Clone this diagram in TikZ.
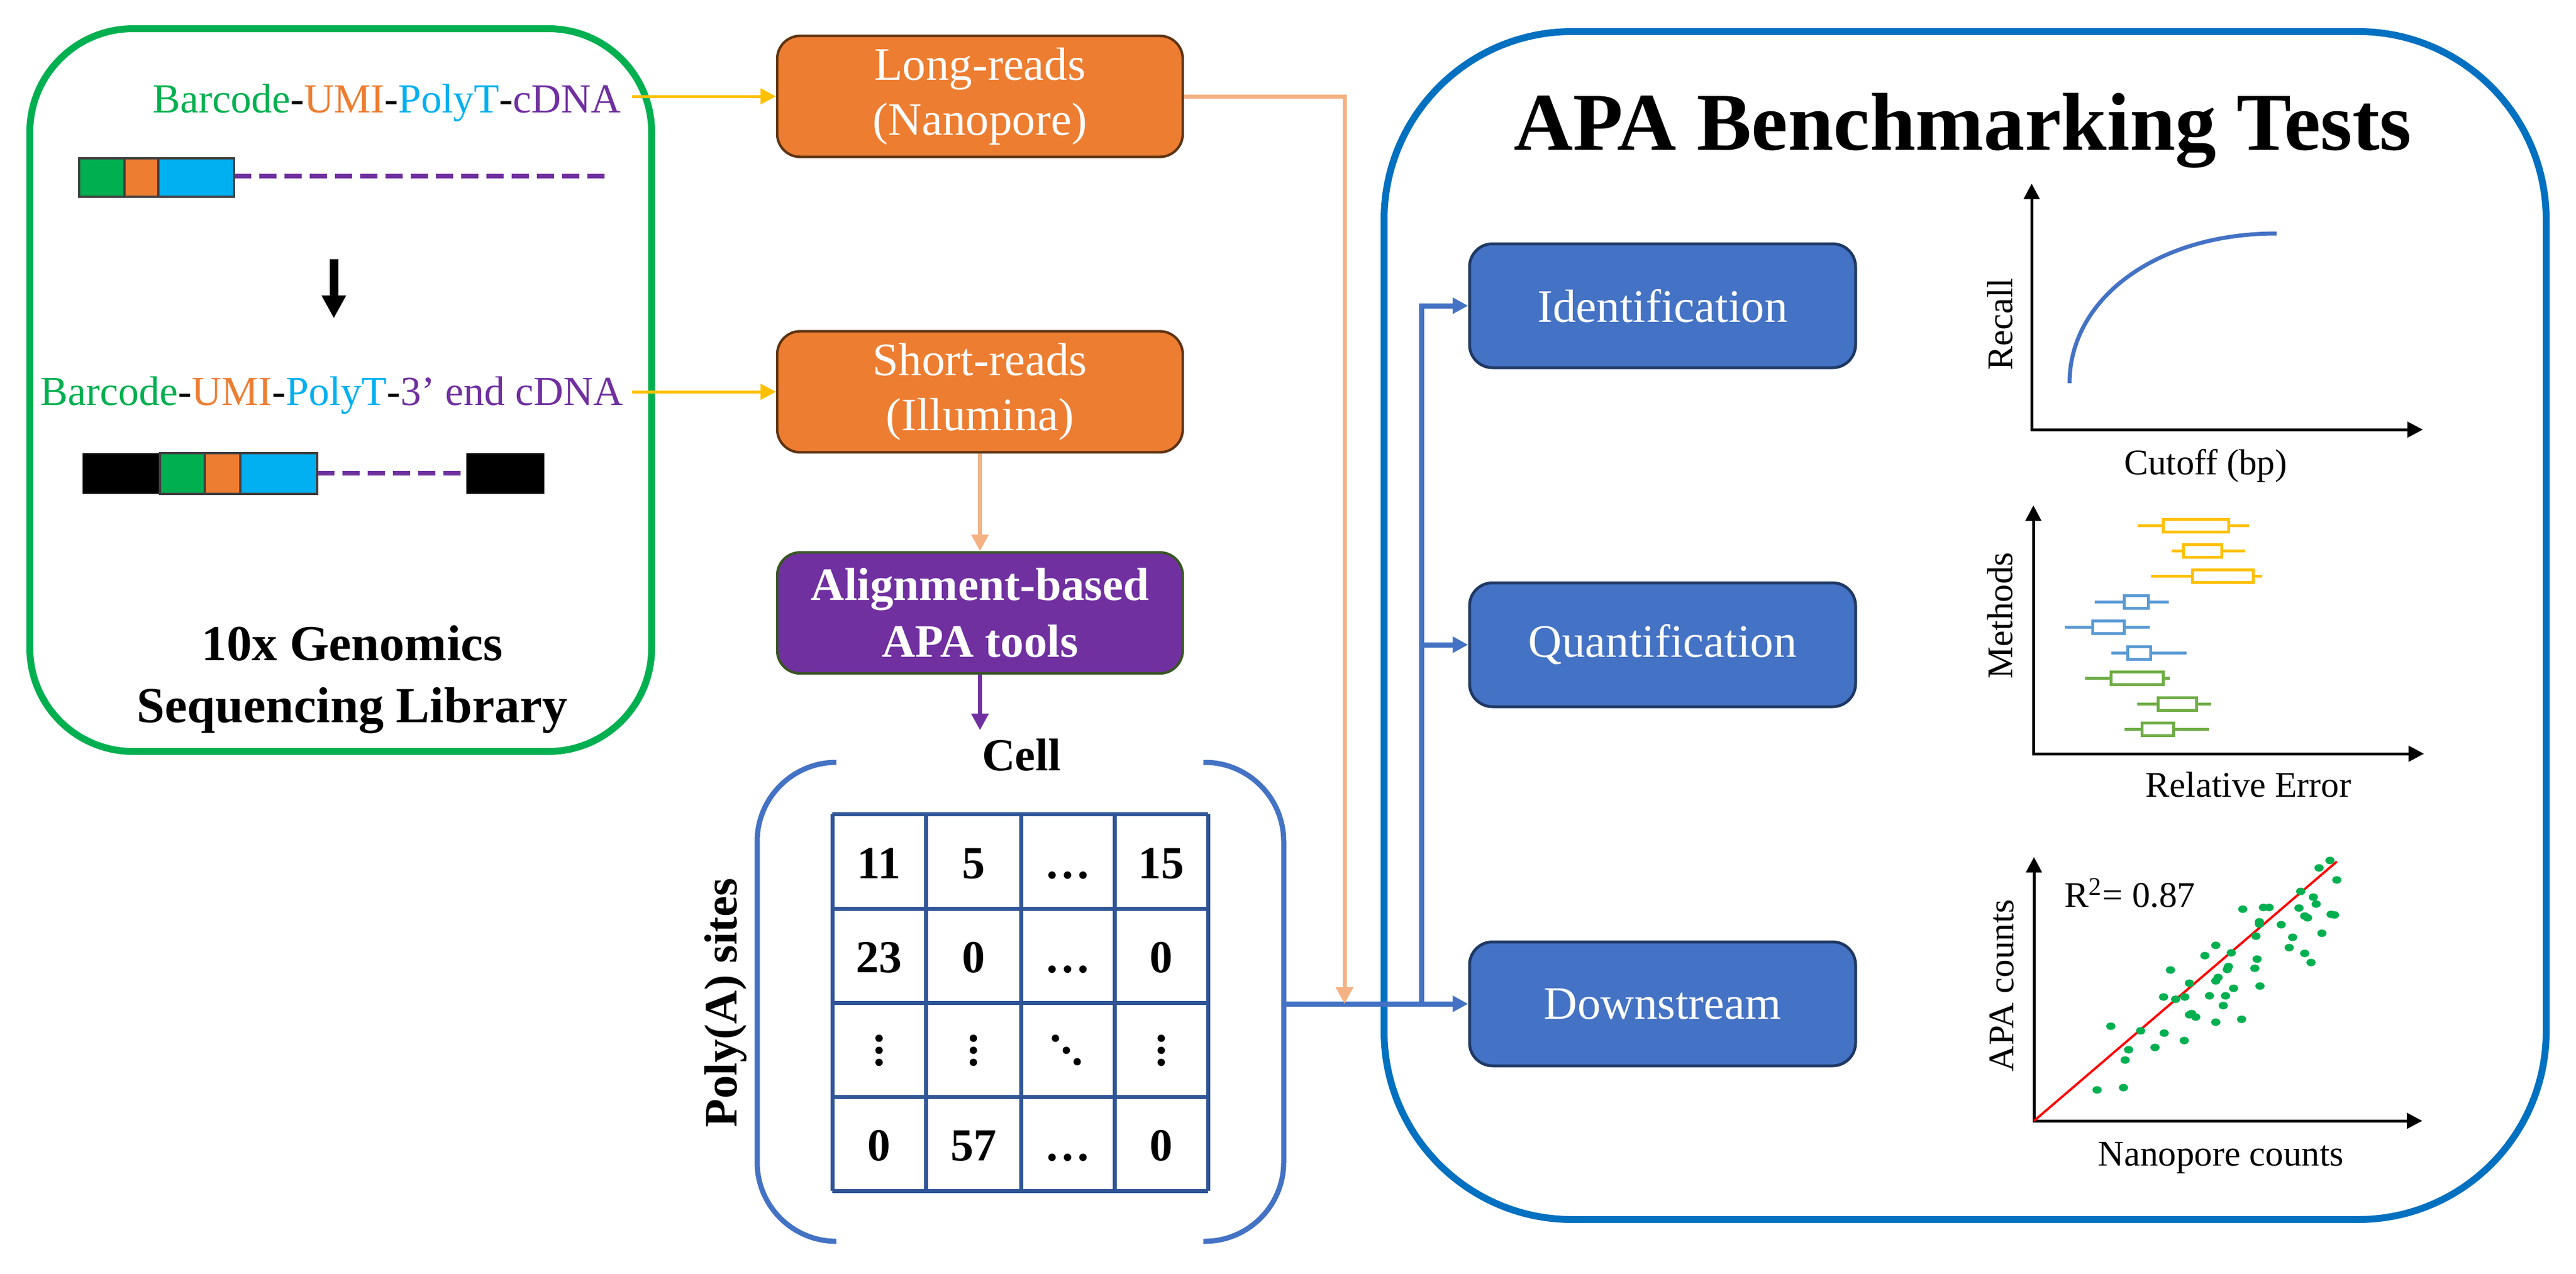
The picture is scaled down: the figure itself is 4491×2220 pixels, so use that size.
\documentclass[tikz,border=0pt]{standalone}
\usepackage{fontspec}
\setmainfont{Liberation Serif}
\usetikzlibrary{arrows.meta}
\definecolor{cgreen}{HTML}{00B050}
\definecolor{corange}{HTML}{ED7D31}
\definecolor{ccyan}{HTML}{00B0F0}
\definecolor{cpurple}{HTML}{7030A0}
\definecolor{cyellow}{HTML}{FFC000}
\definecolor{cpeach}{HTML}{F4B183}
\definecolor{cblue}{HTML}{4472C4}
\definecolor{cdarkblue}{HTML}{0070C0}
\definecolor{cnavy}{HTML}{1F3864}
\definecolor{cgrid}{HTML}{2F5597}
\definecolor{cbrown}{HTML}{5E3412}
\definecolor{colive}{HTML}{375623}
\definecolor{cbpblue}{HTML}{5B9BD5}
\definecolor{cbpgreen}{HTML}{70AD47}
\definecolor{cbar}{HTML}{404040}
\begin{document}
\begin{tikzpicture}[x=0.25pt,y=-0.25pt,
  seqtext/.style={font=\fontsize{18pt}{22pt}\selectfont, inner sep=0pt, anchor=base east},
  obox/.style={draw=cbrown, line width=1.1pt, fill=corange, rounded corners=10pt,
    minimum width=176.75pt, minimum height=52.75pt, text=white, align=center,
    font=\fontsize{20.25pt}{24pt}\selectfont, inner sep=0pt},
  pbox/.style={obox, draw=colive, fill=cpurple, font=\bfseries\fontsize{20.25pt}{24.75pt}\selectfont},
  bbox/.style={draw=cnavy, line width=1.25pt, fill=cblue, rounded corners=10pt,
    minimum width=168.25pt, minimum height=54pt, text=white,
    font=\fontsize{20.25pt}{24pt}\selectfont, inner sep=0pt},
  axlab/.style={font=\fontsize{15.75pt}{19pt}\selectfont, inner sep=0pt},
  mnum/.style={font=\bfseries\fontsize{20pt}{24pt}\selectfont, inner sep=0pt, anchor=base},
  axarr/.style={line width=1.25pt, {Triangle[width=6.75pt,length=6.75pt]}-{Triangle[width=6.75pt,length=6.75pt]}},
  yarr/.style={draw=cyellow, line width=1.25pt, -{Triangle[width=6.75pt,length=6.75pt]}},
  parr/.style={draw=cpeach, line width=1.75pt, -{Triangle[width=7.25pt,length=7.25pt]}},
  uarr/.style={draw=cpurple, line width=1.9pt, -{Triangle[width=7.25pt,length=7.25pt]}},
  barr/.style={draw=cblue, line width=2.25pt, -{Triangle[width=6.75pt,length=6.75pt]}},
  bline/.style={draw=cblue, line width=2.25pt},
  seqbar/.style={draw=cbar, line width=1pt},
  dashln/.style={draw=cpurple, line width=2pt, dash pattern=on 7.5pt off 3.5pt},
  bp/.style={line width=1.25pt}
]
\fill[white] (0,0) rectangle (4491,2220);

% ---------- Left library box ----------
\draw[cgreen, line width=3pt, rounded corners=45pt] (52,50) rectangle (1136,1310);
\node[seqtext] (seq1) at (1083,196) {{\color{cgreen}Barcode}-{\color{corange}UMI}-{\color{ccyan}PolyT}-{\color{cpurple}cDNA}};
\node[seqtext] (seq2) at (1087,706) {{\color{cgreen}Barcode}-{\color{corange}UMI}-{\color{ccyan}PolyT}-{\color{cpurple}3’ end cDNA}};
% bar 1
\draw[dashln] (408,307) -- (1068,307);
\filldraw[seqbar, fill=cgreen] (138,276) rectangle (217,343);
\filldraw[seqbar, fill=corange] (217,276) rectangle (276,343);
\filldraw[seqbar, fill=ccyan] (276,276) rectangle (408,343);
% arrow
\coordinate (ka) at (582,452);
\coordinate (kb) at (582,555);
\draw[line width=3.75pt, -{Triangle[width=10pt,length=10pt]}] (ka) -- (kb);
% bar 2
\draw[dashln] (553,825) -- (813,825);
\fill[black] (144,790) rectangle (279,861);
\filldraw[seqbar, fill=cgreen] (279,790) rectangle (357,861);
\filldraw[seqbar, fill=corange] (357,790) rectangle (419,861);
\filldraw[seqbar, fill=ccyan] (419,790) rectangle (553,861);
\fill[black] (813,790) rectangle (949,861);
\node[font=\bfseries\fontsize{22pt}{27pt}\selectfont, align=center, inner sep=0pt] (lib) at (614,1185) {10x Genomics\\Sequencing Library};

% ---------- Middle column ----------
\node[obox] (long) at (1708.5,168) {Long-reads\\(Nanopore)};
\node[obox] (short) at (1708.5,683) {Short-reads\\(Illumina)};
\node[pbox] (align) at (1708.5,1068.5) {Alignment-based\\APA tools};
\coordinate (ya) at (1102,168);
\coordinate (yb) at (1102,683);
\draw[yarr] (ya) -- (long.west);
\draw[yarr] (yb) -- (short.west);
\draw[parr] (short.south) -- (align.north);
\coordinate (cellarr) at (1708.5,1273);
\draw[uarr] (align.south) -- (cellarr);

% ---------- Matrix ----------
\node[font=\bfseries\fontsize{20pt}{24pt}\selectfont, anchor=base, inner sep=0pt] (cell) at (1781,1343) {Cell};
\node[font=\bfseries\fontsize{20.25pt}{24pt}\selectfont, rotate=90, anchor=base, inner sep=0pt] (polya) at (1284,1748) {Poly(A) sites};
\draw[cblue, line width=2.25pt, rounded corners=34.5pt] (1458,1329) -- (1320,1329) -- (1320,2164) -- (1458,2164);
\draw[cblue, line width=2.25pt, rounded corners=34.5pt] (2098,1329) -- (2238,1329) -- (2238,2164) -- (2098,2164);
\foreach \xx in {1451,1614,1780,1943,2106} \draw[cgrid, line width=1.75pt] (\xx,1419) -- (\xx,2076);
\foreach \yy in {1419,1584,1748,1912,2076} \draw[cgrid, line width=1.75pt] (1451,\yy) -- (2106,\yy);
\node[mnum] (m11) at (1532.5,1531) {11};
\node[mnum] (m12) at (1697,1531) {5};
\node[mnum] (m13) at (1861.5,1531) {…};
\node[mnum] (m14) at (2024.5,1531) {15};
\node[mnum] (m21) at (1532.5,1695) {23};
\node[mnum] (m22) at (1697,1695) {0};
\node[mnum] (m23) at (1861.5,1695) {…};
\node[mnum] (m24) at (2024.5,1695) {0};
\node[mnum] (m41) at (1532.5,2023) {0};
\node[mnum] (m42) at (1697,2023) {57};
\node[mnum] (m43) at (1861.5,2023) {…};
\node[mnum] (m44) at (2024.5,2023) {0};
\foreach \xx in {1532.5,1697,2024.5} {
  \foreach \yy in {1810,1831,1852} \fill (\xx,\yy) circle[radius=1.6pt];
}
\fill (1840,1810) circle[radius=1.6pt];
\fill (1859,1831) circle[radius=1.6pt];
\fill (1878,1851) circle[radius=1.6pt];

% ---------- APA box ----------
\draw[cdarkblue, line width=3pt, rounded corners=82pt] (2413,55) rectangle (4439,2126);
\node[font=\bfseries\fontsize{35.75pt}{40pt}\selectfont, anchor=base, inner sep=0pt] (title) at (3422,261) {APA Benchmarking Tests};
\node[bbox] (ident) at (2898.5,533) {Identification};
\node[bbox] (quant) at (2898.5,1124) {Quantification};
\node[bbox] (down) at (2898.5,1750) {Downstream};

% connectors
\coordinate (br) at (2238,1750);
\coordinate (jn) at (2478,1750);
\coordinate (pdrop) at (2344,1750);
\draw[barr] (br) -- (down.west);
\draw[barr] (jn) |- (ident.west);
\draw[barr] (jn |- quant.west) -- (quant.west);
\draw[parr] (long.east) -| (pdrop);

% ---------- Plot 1 ----------
\draw[axarr] (3542,320) -- (3542,749) -- (4224,749);
\draw[cblue, line width=1.75pt] (3608,668) .. controls (3608,520) and (3760,407) .. (3969,407);
\node[axlab, rotate=90, anchor=base] (recall) at (3508,565) {Recall};
\node[axlab, anchor=base] (cutoff) at (3845,827) {Cutoff (bp)};

% ---------- Plot 2 ----------
\draw[axarr] (3545,881) -- (3545,1314) -- (4226,1314);
\foreach \wa/\wb/\ba/\bb/\yy/\colr in {
  3727/3921/3771/3885/916/cyellow,
  3786/3914/3806/3873/960/cyellow,
  3750/3944/3822/3928/1004/cyellow,
  3652/3781/3703/3745/1049/cbpblue,
  3600/3748/3648/3703/1093/cbpblue,
  3681/3812/3709/3749/1138/cbpblue,
  3635/3783/3680/3771/1182/cbpgreen,
  3726/3855/3762/3829/1227/cbpgreen,
  3704/3851/3734/3789/1271/cbpgreen} {
  \draw[bp, \colr] (\wa,\yy) -- (\wb,\yy);
  \filldraw[bp, draw=\colr, fill=white] (\ba,\yy-11) rectangle (\bb,\yy+11);
}
\node[axlab, rotate=90, anchor=base] (methods) at (3508,1073) {Methods};
\node[axlab, anchor=base] (relerr) at (3920,1389) {Relative Error};

% ---------- Plot 3 ----------
\draw[axarr] (3546,1494) -- (3546,1954) -- (4223,1954);
\draw[red, line width=1pt] (3546,1954) -- (4074,1502);
\foreach \pt in {(4062,1500),(4043,1513),(4074,1534),(4011,1554),(4033,1564),(4038,1576),(4008,1583),(4018,1597),(4023,1600),(4064,1594),(4070,1595),(3910,1585),(3946,1582),(3956,1582),(3939,1607),(3939,1611),(3977,1612),(3933,1632),(3997,1634),(4048,1627),(3991,1652),(4018,1662),(4029,1678),(3863,1648),(3844,1666),(3890,1661),(3935,1672),(3885,1685),(3931,1688),(3784,1691),(3883,1690),(3867,1704),(3863,1710),(3817,1714),(3894,1723),(3940,1719),(3772,1738),(3793,1742),(3809,1738),(3852,1736),(3880,1736),(3876,1753),(3817,1769),(3821,1767),(3828,1773),(3863,1782),(3908,1777),(3680,1789),(3732,1797),(3773,1801),(3808,1814),(3757,1826),(3711,1830),(3705,1848),(3656,1900),(3702,1896)}
  \fill[cgreen] \pt ellipse[x radius=2pt, y radius=1.65pt];
\node[axlab, anchor=base west] (r2) at (3599,1581) {R\textsuperscript{2}= 0.87};
\node[axlab, rotate=90, anchor=base] (apacounts) at (3510,1718) {APA counts};
\node[axlab, anchor=base] (nanoc) at (3872,2032) {Nanopore counts};
\end{tikzpicture}
\end{document}
